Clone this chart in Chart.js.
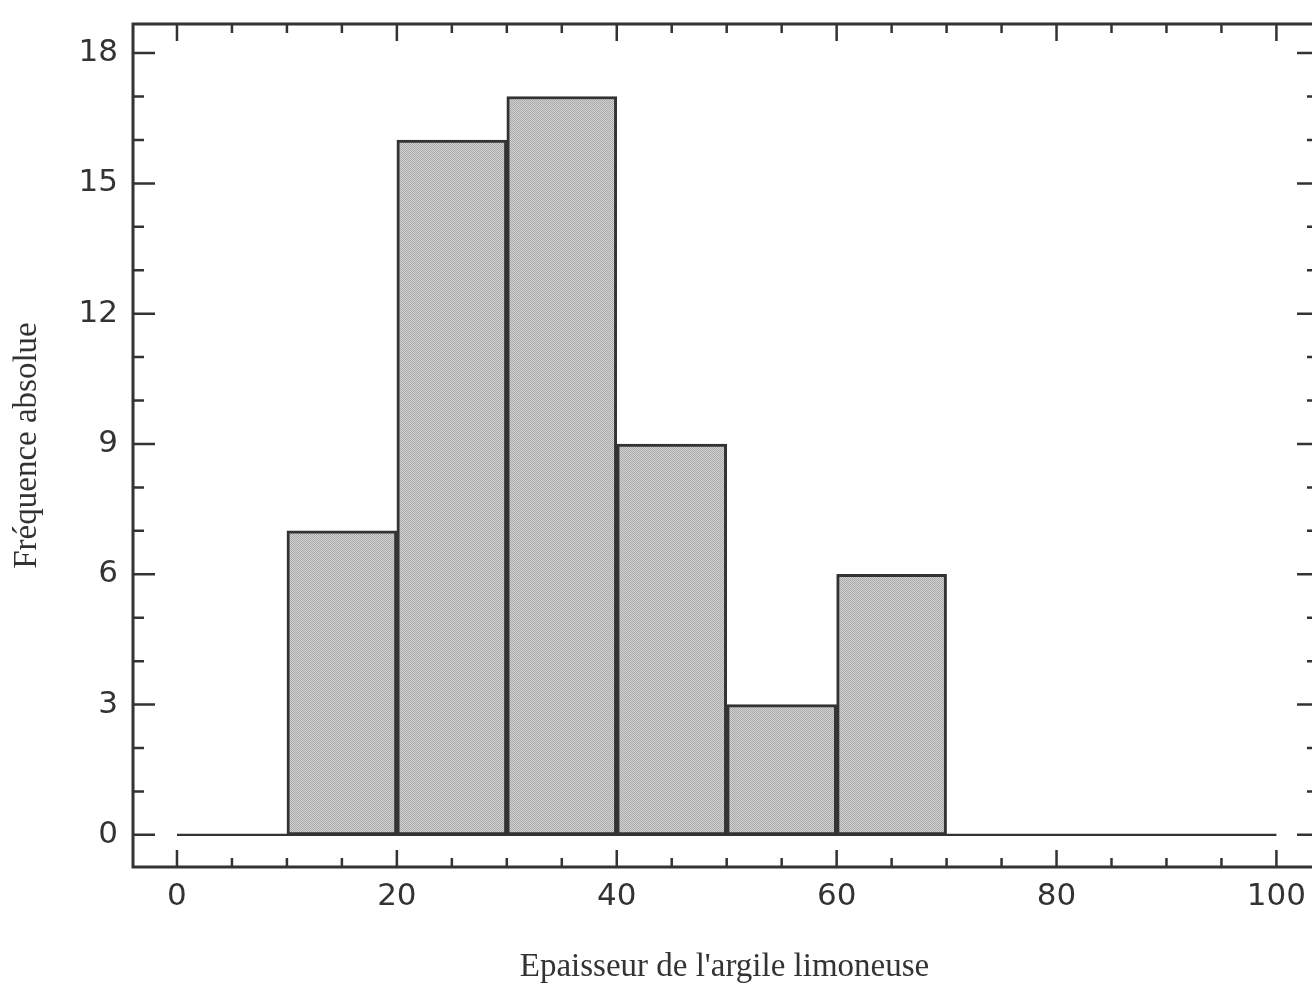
<!DOCTYPE html>
<html>
<head>
<meta charset="utf-8">
<script src="https://cdn.jsdelivr.net/npm/chart.js@4.4.0/dist/chart.umd.min.js"></script>
<style>
html,body{margin:0;padding:0;background:#fff;overflow:hidden;}
#wrap{width:1320px;height:987px;position:relative;}
</style>
</head>
<body>
<div id="wrap"><canvas id="c"></canvas></div>
<script>
// Histogram data: class centres (bins 10-20, 20-30, ...) and absolute frequencies
const binCenters = [15, 25, 35, 45, 55, 65];
const frequencies = [7, 16, 17, 9, 3, 6];
// Tick labels
const xTickLabels = [0, 20, 40, 60, 80, 100];
const yTickLabels = [0, 3, 6, 9, 12, 15, 18];
const xMinorStep = 5;
const yMinorStep = 1;
const xTitle = "Epaisseur de l'argile limoneuse";
const yTitle = "Fréquence absolue";

const ink = '#333333';

// halftone-like fill
const pc = document.createElement('canvas');
pc.width = 2; pc.height = 2;
const pctx = pc.getContext('2d');
pctx.fillStyle = '#d2d2d2'; pctx.fillRect(0, 0, 2, 2);
pctx.fillStyle = '#a9a9a9'; pctx.fillRect(0, 0, 1, 1); pctx.fillRect(1, 1, 1, 1);
const halftone = pctx.createPattern(pc, 'repeat');

const zeroPad = s => { s.paddingLeft = 0; s.paddingRight = 0; s.paddingTop = 0; s.paddingBottom = 0; };

const framePlugin = {
  id: 'frame',
  afterDatasetsDraw(chart) {
    const {ctx, chartArea: {left, right, top, bottom}, scales: {x, y}} = chart;
    ctx.save();
    ctx.strokeStyle = ink;
    ctx.lineCap = 'butt';
    // baseline y = 0 from x = 0 to x = 100
    ctx.lineWidth = 2.2;
    ctx.beginPath();
    ctx.moveTo(x.getPixelForValue(xTickLabels[0]), y.getPixelForValue(0));
    ctx.lineTo(x.getPixelForValue(xTickLabels[xTickLabels.length - 1]), y.getPixelForValue(0));
    ctx.stroke();
    // frame
    ctx.lineWidth = 3;
    ctx.strokeRect(left, top, right - left, bottom - top);
    // inward ticks
    ctx.lineWidth = 2.5;
    const xMax = xTickLabels[xTickLabels.length - 1];
    for (let v = xTickLabels[0]; v <= xMax + 1e-9; v += xMinorStep) {
      const px = x.getPixelForValue(v);
      const major = xTickLabels.includes(v);
      const len = major ? 17 : 9;
      ctx.beginPath();
      ctx.moveTo(px, bottom); ctx.lineTo(px, bottom - len);
      ctx.moveTo(px, top); ctx.lineTo(px, top + len);
      ctx.stroke();
    }
    const yMax = yTickLabels[yTickLabels.length - 1];
    for (let v = yTickLabels[0]; v <= yMax + 1e-9; v += yMinorStep) {
      const py = y.getPixelForValue(v);
      const major = yTickLabels.includes(v);
      ctx.beginPath();
      ctx.moveTo(left, py); ctx.lineTo(left + (major ? 22 : 11), py);
      ctx.moveTo(right, py); ctx.lineTo(right - (major ? 19 : 9), py);
      ctx.stroke();
    }
    ctx.restore();
  }
};

new Chart(document.getElementById('c'), {
  type: 'bar',
  data: {
    datasets: [{
      data: binCenters.map((c, i) => ({x: c, y: frequencies[i]})),
      backgroundColor: halftone,
      borderColor: ink,
      borderWidth: 3,
      borderSkipped: false,
      barPercentage: 1,
      categoryPercentage: 1,
      grouped: false
    }]
  },
  options: {
    responsive: true,
    maintainAspectRatio: false,
    animation: false,
    layout: {padding: {top: 24, right: 4, bottom: 0, left: 0}},
    plugins: {legend: {display: false}, tooltip: {enabled: false}},
    scales: {
      x: {
        type: 'linear',
        min: -4,
        max: 103.6,
        offset: false,
        afterBuildTicks: s => { s.ticks = xTickLabels.map(v => ({value: v})); },
        afterFit: s => { s.height = 120; zeroPad(s); },
        grid: {display: false, drawTicks: false},
        border: {display: false},
        ticks: {
          padding: 11,
          color: ink,
          maxRotation: 0,
          autoSkip: false,
          font: {family: 'DejaVu Sans', size: 31}
        },
        title: {
          display: true,
          text: xTitle,
          color: ink,
          font: {family: 'Liberation Serif', size: 33},
          padding: {top: 0, bottom: 0}
        }
      },
      y: {
        type: 'linear',
        min: -0.74,
        max: 18.67,
        afterBuildTicks: s => { s.ticks = yTickLabels.map(v => ({value: v})); },
        afterFit: s => { s.width = 133; zeroPad(s); },
        grid: {display: false, drawTicks: false},
        border: {display: false},
        ticks: {
          padding: 15,
          color: ink,
          autoSkip: false,
          font: {family: 'DejaVu Sans', size: 31}
        },
        title: {
          display: true,
          text: yTitle,
          color: ink,
          font: {family: 'Liberation Serif', size: 33},
          padding: {top: 8, bottom: 0}
        }
      }
    }
  },
  plugins: [framePlugin]
});
</script>
</body>
</html>
